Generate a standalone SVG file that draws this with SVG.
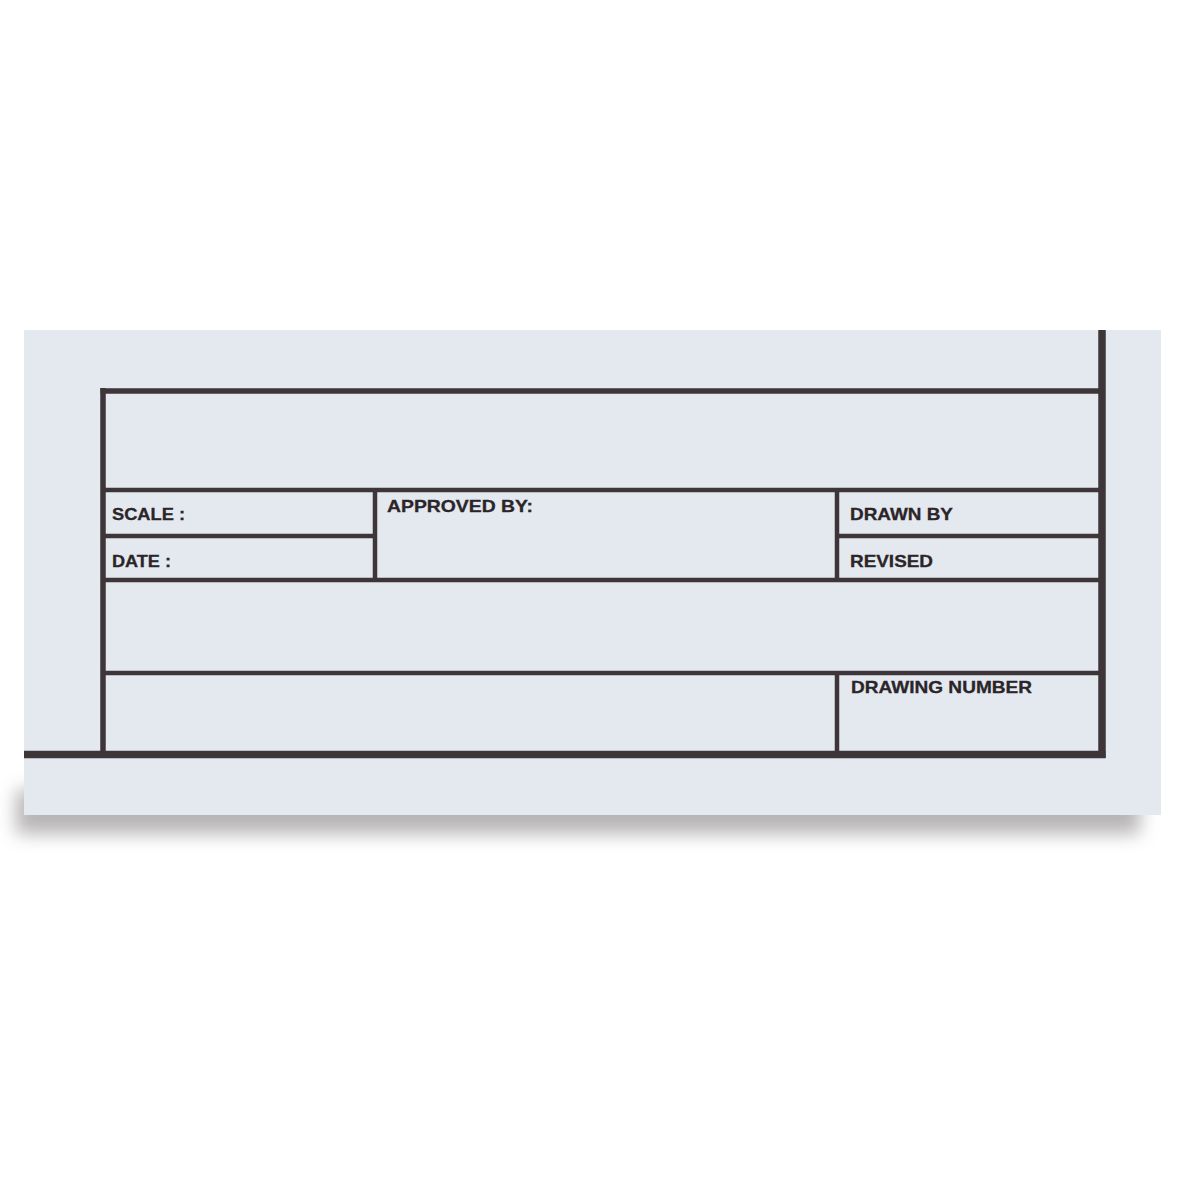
<svg xmlns="http://www.w3.org/2000/svg" width="1200" height="1200" viewBox="0 0 1200 1200">
  <defs>
    <filter id="shadowBlur" x="-10%" y="-100%" width="120%" height="300%">
      <feGaussianBlur stdDeviation="9"/>
    </filter>
    <style>
      .rule { stroke: #3d3538; fill: none; stroke-linecap: butt; }
      .heavy { stroke-width: 7.5; }
      .mid { stroke-width: 5.5; }
      .thin { stroke-width: 4.5; }
      .label { font-family: "Liberation Sans", Arial, sans-serif; font-weight: bold; font-size: 16.5px; fill: #2b2529; stroke: #2b2529; stroke-width: 0.3; }
    </style>
  </defs>

  <rect x="0" y="0" width="1200" height="1200" fill="#ffffff"/>

  <!-- paper shadow -->
  <g id="shadow">
    <rect x="16" y="790" width="1124" height="44" fill="#9a9698" opacity="0.7" filter="url(#shadowBlur)"/>
  </g>

  <!-- paper -->
  <g id="paper">
    <rect x="24" y="330" width="1137" height="485" fill="#e4e9f0"/>
  </g>

  <!-- ruled lines of the title block -->
  <g id="rules">
    <line class="rule heavy" x1="1102" y1="330" x2="1102" y2="758"/>
    <line class="rule heavy" x1="24" y1="754.5" x2="1105.5" y2="754.5"/>
    <line class="rule mid" x1="103" y1="388" x2="103" y2="754"/>
    <line class="rule mid" x1="100.5" y1="391" x2="1102" y2="391"/>
    <line class="rule thin" x1="103" y1="490" x2="1102" y2="490"/>
    <line class="rule thin" x1="103" y1="580" x2="1102" y2="580"/>
    <line class="rule thin" x1="103" y1="673" x2="1102" y2="673"/>
    <line class="rule thin" x1="103" y1="536" x2="375" y2="536"/>
    <line class="rule thin" x1="837" y1="536" x2="1102" y2="536"/>
    <line class="rule thin" x1="375" y1="490" x2="375" y2="580"/>
    <line class="rule thin" x1="837" y1="490" x2="837" y2="580"/>
    <line class="rule thin" x1="837" y1="673" x2="837" y2="754"/>
  </g>

  <g id="scale"><text class="label" x="112" y="520" textLength="73" lengthAdjust="spacingAndGlyphs">SCALE :</text></g>
  <g id="date"><text class="label" x="112" y="567" textLength="59" lengthAdjust="spacingAndGlyphs">DATE :</text></g>
  <g id="approved"><text class="label" x="387" y="512" textLength="146" lengthAdjust="spacingAndGlyphs">APPROVED BY:</text></g>
  <g id="drawn"><text class="label" x="850" y="520" textLength="103" lengthAdjust="spacingAndGlyphs">DRAWN BY</text></g>
  <g id="revised"><text class="label" x="850" y="567" textLength="83" lengthAdjust="spacingAndGlyphs">REVISED</text></g>
  <g id="drawing-number"><text class="label" x="851" y="693" textLength="181" lengthAdjust="spacingAndGlyphs">DRAWING NUMBER</text></g>
</svg>
